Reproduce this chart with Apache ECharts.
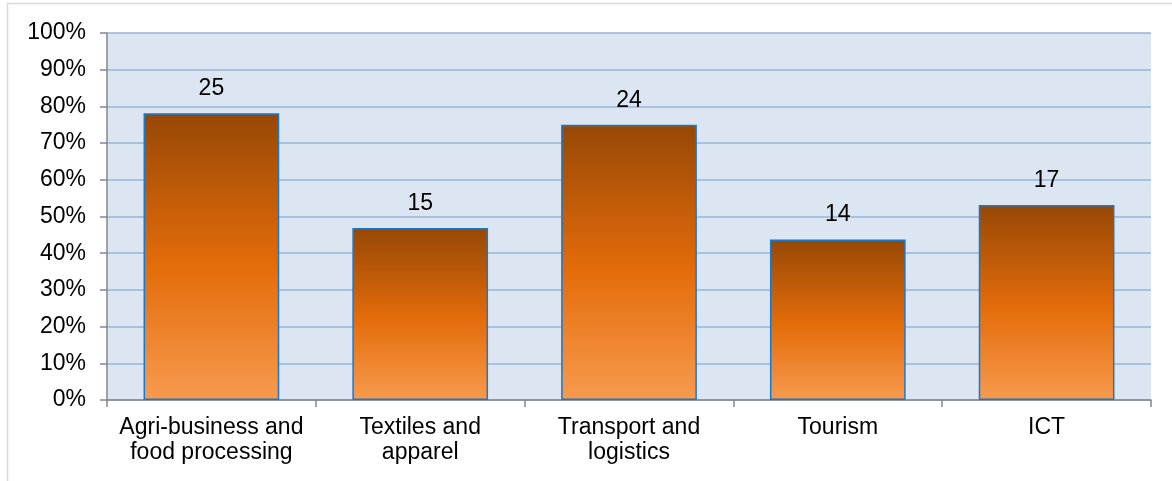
<!DOCTYPE html>
<html>
<head>
<meta charset="utf-8">
<style>
  html, body { margin: 0; padding: 0; background: #ffffff; }
  #chart { width: 1172px; height: 481px; }
</style>
<script src="https://cdn.jsdelivr.net/npm/echarts@6/dist/echarts.min.js"></script>
</head>
<body>
<div id="chart"></div>
<script>
// Sectors and number of respondents per sector
const categories = [
  'Agri-business and\nfood processing',
  'Textiles and\napparel',
  'Transport and\nlogistics',
  'Tourism',
  'ICT'
];
const counts = [25, 15, 24, 14, 17];
const totalRespondents = 32;
const yTicks = [0, 10, 20, 30, 40, 50, 60, 70, 80, 90, 100];

// Share of respondents (%) derived from the counts
const shares = counts.map(c => c / totalRespondents * 100);

const font = 'Liberation Sans, Arial, sans-serif';
const chart = echarts.init(document.getElementById('chart'), null, { renderer: 'canvas' });

chart.setOption({
  backgroundColor: '#ffffff',
  animation: false,
  graphic: [{
    type: 'rect',
    shape: { x: 7.5, y: 3.5, width: 1300, height: 600 },
    style: { fill: 'none', stroke: '#d9d9d9', lineWidth: 1.5 },
    z: -10
  }],
  grid: {
    left: 107, top: 33, right: 21, bottom: 81,
    show: true, backgroundColor: '#dce6f2', borderWidth: 0
  },
  xAxis: {
    type: 'category',
    data: categories,
    axisLine: { show: true, lineStyle: { color: '#868686', width: 1.5 } },
    axisTick: { show: true, alignWithLabel: false, length: 7, lineStyle: { color: '#868686', width: 1.5 } },
    axisLabel: {
      color: '#000000', fontFamily: font, fontSize: 23, lineHeight: 25,
      margin: 15, interval: 0
    }
  },
  yAxis: {
    type: 'value',
    min: yTicks[0], max: yTicks[yTicks.length - 1], interval: 10,
    axisLine: { show: true, lineStyle: { color: '#868686', width: 1.5 } },
    axisTick: { show: true, length: 7, lineStyle: { color: '#868686', width: 1.5 } },
    axisLabel: {
      color: '#000000', fontFamily: font, fontSize: 23, margin: 21,
      formatter: v => v + '%'
    },
    splitLine: { show: true, lineStyle: { color: '#98b4d8', width: 1.5 } }
  },
  series: [{
    type: 'bar',
    data: shares,
    barWidth: '65%',
    itemStyle: {
      borderColor: '#1a78c8',
      borderWidth: 1.5,
      color: new echarts.graphic.LinearGradient(0, 0, 0, 1, [
        { offset: 0, color: '#974806' },
        { offset: 0.53, color: '#e46c0a' },
        { offset: 1, color: '#f79a4e' }
      ])
    },
    label: {
      show: true,
      position: 'top',
      distance: 13,
      color: '#000000',
      fontFamily: font,
      fontSize: 23,
      formatter: p => String(counts[p.dataIndex])
    }
  }]
});
</script>
</body>
</html>
